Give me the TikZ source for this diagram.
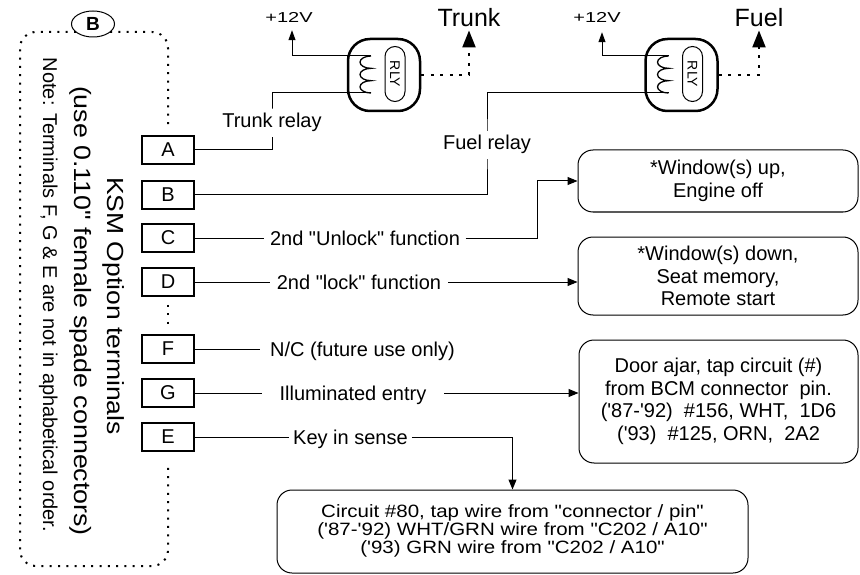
\documentclass[tikz,border=0pt]{standalone}
\usepackage{fontspec}
\usepackage{graphicx}
\newfontfamily\af{Liberation Sans}
\usetikzlibrary{arrows.meta,shapes.geometric,backgrounds}
\tikzset{
  txt/.style={font=\af\fontsize{20}{22.5}\selectfont},
  term/.style={draw, line width=1.8pt, minimum width=52pt, minimum height=28pt, inner sep=0pt, txt},
  wire/.style={line width=1pt},
  lbl/.style={inner ysep=2pt, anchor=base, txt},
  arr/.style={-{Triangle[length=10pt,width=8pt]}},
  infobox/.style={draw, line width=1pt, rounded corners=15pt, align=center, inner sep=0pt, txt},
  frame/.style={line width=2pt, dash pattern=on 2pt off 6.3pt, rounded corners=16pt},
  reldots/.style={line width=2.2pt, dash pattern=on 3pt off 6.5pt},
  relaybody/.style={draw, line width=2.5pt, rounded corners=22pt, minimum width=72pt, minimum height=72pt, inner sep=0pt},
  pill/.style={draw, line width=1pt, rounded corners=10pt, minimum width=20pt, minimum height=55pt, inner sep=0pt},
  coilw/.style={line width=1.3pt},
  bigl/.style={font=\af\fontsize{25}{28}\selectfont, inner sep=0pt, anchor=base},
  volt/.style={font=\af\fontsize{20}{22}\selectfont, inner sep=0pt, anchor=base},
  bigarr/.style={-{Triangle[length=17pt,width=13pt]}},
  smallarr/.style={-{Triangle[length=10pt,width=7pt]}},
  sidetext/.style={rotate=-90, anchor=base, inner sep=0pt},
}
\begin{document}
\begin{tikzpicture}[x=1pt,y=-1pt]
\useasboundingbox (0,0) rectangle (860,575);

% terminal boxes
\node[term] (A) at (168,150) {A};
\node[term] (B) at (168,195) {B};
\node[term] (C) at (168,238) {C};
\node[term] (D) at (168,282) {D};
\node[term] (F) at (168,349) {F};
\node[term] (G) at (168,393) {G};
\node[term] (E) at (168,437) {E};

% circled B
\node[draw, ellipse, line width=1pt, minimum width=43pt, minimum height=26pt, inner sep=0pt,
      font=\af\bfseries\fontsize{19}{21}\selectfont] (Bc) at (93,24) {B};

% dotted frame
\draw[frame] ([shift={(-17pt,-8pt)}]Bc.center) -- (20,32) -- (20,566) -- (168,566) -- ([yshift=-14pt]E.south);
\draw[frame] ([shift={(17pt,-8pt)}]Bc.center) -- (168,32) -- ([yshift=6pt]A.north);
\draw[frame] ([yshift=-8pt]D.south) -- ([yshift=10pt]F.north);

% side texts
\node[sidetext, font=\af\fontsize{26.5}{30}\selectfont] (ksm) at (107,306) {\scalebox{1}[0.88]{KSM Option terminals}};
\node[sidetext, font=\af\fontsize{26.8}{30}\selectfont] (use) at (74,311) {\scalebox{1}[0.88]{(use 0.110" female spade connectors)}};
\node[sidetext, font=\af\fontsize{20}{22}\selectfont] (note) at (43,295) {Note: Terminals F, G \& E are not in aphabetical order.};

% relays
\node[relaybody] (relT) at (384,75) {};
\node[pill] (pillT) at (395,74) {};
\node[rotate=-90, font=\af\fontsize{14}{16}\selectfont, inner sep=0pt] (rlyT) at (pillT) {RLY};
\coordinate (cTt) at (371,56);
\coordinate (cTb) at (371,93);
\draw[coilw] (cTt) arc[start angle=90, end angle=270, x radius=11pt, y radius=6.17pt]
                   arc[start angle=90, end angle=270, x radius=11pt, y radius=6.17pt]
                   arc[start angle=90, end angle=270, x radius=11pt, y radius=6.17pt];

\node[relaybody] (relF) at (681.5,75) {};
\node[pill] (pillF) at (692.5,74) {};
\node[rotate=-90, font=\af\fontsize{14}{16}\selectfont, inner sep=0pt] (rlyF) at (pillF) {RLY};
\coordinate (cFt) at (668.5,56);
\coordinate (cFb) at (668.5,93);
\draw[coilw] (cFt) arc[start angle=90, end angle=270, x radius=11pt, y radius=6.17pt]
                   arc[start angle=90, end angle=270, x radius=11pt, y radius=6.17pt]
                   arc[start angle=90, end angle=270, x radius=11pt, y radius=6.17pt];

% top labels
\node[volt] (p12T) at (289,23) {\scalebox{1}[0.72]{+12V}};
\node[volt] (p12F) at (597,23) {\scalebox{1}[0.72]{+12V}};
\node[bigl] (trunkL) at (469,27) {Trunk};
\node[bigl] (fuelL) at (759,27) {Fuel};

\draw[wire, smallarr, shorten >=7pt] (cTt) -| ([xshift=3pt]p12T.south);
\draw[wire, smallarr, shorten >=9pt] (cFt) -| ([xshift=5pt]p12F.south);
\draw[reldots, bigarr, shorten >=3pt] (relT.east) -| (trunkL.south);
\draw[reldots, bigarr, shorten >=3pt] (relF.east) -| (fuelL.south);

% info boxes
\node[infobox, minimum width=280pt, minimum height=62pt] (box1) at (718,181) {*Window(s) up,\\Engine off};
\node[infobox, minimum width=280pt, minimum height=78pt] (box2) at (718,276) {*Window(s) down,\\Seat memory,\\Remote start};
\node[infobox, minimum width=279pt, minimum height=123pt] (box3) at (718.5,401.5) {Door ajar, tap circuit (\#)\\from BCM connector\ \ pin.\\('87-'92)\ \ \#156, WHT,\ \ 1D6\\('93)\ \ \#125, ORN,\ \ 2A2};
\node[infobox, minimum width=471pt, minimum height=83pt] (box4) at (512.5,531.5) {\scalebox{1}[0.87]{\fontsize{20.5}{19.2}\selectfont\begin{tabular}{@{}c@{}}Circuit \#80, tap wire from "connector / pin"\\('87-'92) WHT/GRN wire from "C202 / A10"\\('93) GRN wire from "C202 / A10"\end{tabular}}};

% wire labels
\node[lbl, fill=white, inner ysep=5pt] (lblA) at (272,128) {Trunk relay};
\node[lbl, fill=white, inner ysep=5pt] (lblB) at (487,150) {Fuel relay};
\node[lbl, inner xsep=5.5pt] (lblC) at (365,245.2) {2nd "Unlock" function};
\node[lbl, inner xsep=7pt] (lblD) at (359,289.2) {2nd "lock" function};
\node[lbl, inner xsep=10pt] (lblF) at (362.5,356.2) {N/C (future use only)};
\node[lbl, inner xsep=17.5pt] (lblG) at (353,400.2) {Illuminated entry};
\node[lbl, inner xsep=4pt] (lblE) at (350.5,444.2) {Key in sense};

\begin{scope}[on background layer]
\fill[white] (0,0) rectangle (860,575);
\draw[wire] (A.east) -| (lblA.center) |- (cTb);
\draw[wire] (B.east) -| (lblB.center) |- (cFb);
\end{scope}

\draw[wire] (C.east) -- (C.east -| lblC.west);
\draw[wire, arr] (lblC.east |- C.east) -| ([xshift=-40pt]box1.west) -- (box1.west);
\draw[wire] (D.east) -- (D.east -| lblD.west);
\draw[wire, arr] (lblD.east |- D.east) -- (D.east -| box2.west);
\draw[wire] (F.east) -- (F.east -| lblF.west);
\draw[wire] (G.east) -- (G.east -| lblG.west);
\draw[wire, arr] (lblG.east |- G.east) -- (G.east -| box3.west);
\draw[wire] (E.east) -- (E.east -| lblE.west);
\draw[wire, arr] (lblE.east |- E.east) -| (box4.north);
\end{tikzpicture}
\end{document}
